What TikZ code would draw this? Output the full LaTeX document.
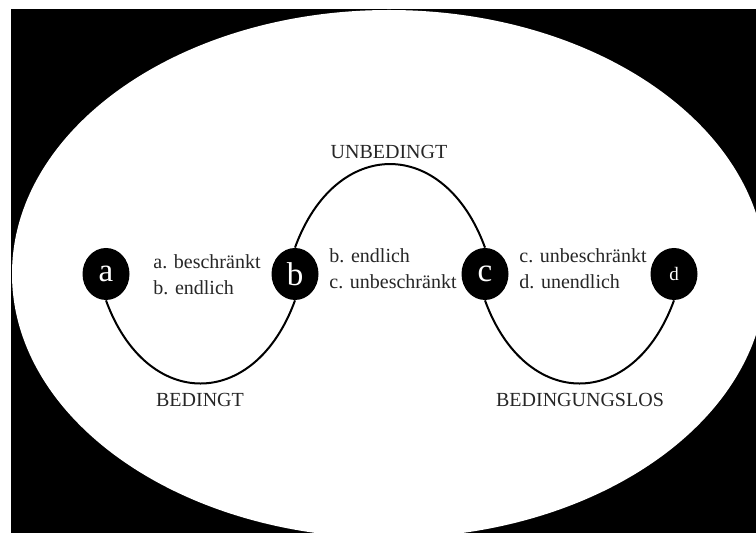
\documentclass[tikz,border=0pt]{standalone}
\usepackage{fontspec}
\setmainfont{Liberation Serif}
\usetikzlibrary{shapes.geometric}

\begin{document}
\begin{tikzpicture}[x=0.5pt,y=-0.5pt,
		point/.style={ellipse,fill=black,inner sep=0pt,minimum width=23.5pt,minimum height=26pt,text=white,font=\fontsize{16.5}{18}\selectfont},
		txt/.style={text=black!85,font=\fontsize{10}{12.8}\selectfont,inner sep=0pt},
		bow/.style={line width=1pt,looseness=1.6}]
		
		\useasboundingbox (0,0) rectangle (756,533);
		\fill[white] (0,0) rectangle (756,533);
		\begin{scope}
			\clip (0,0) rectangle (756,533);
			\fill[black] (11,9) rectangle (756,533);
			\fill[white] (389,274) ellipse [x radius=377,y radius=264];
		\end{scope}
		
		\node(a) at (106,274)[point]{a};
		\node(b) at (295,274)[point]{b};
		\node(c) at (485,274)[point]{c};
		\node(d) at (674,274)[point,font=\fontsize{9.5}{11}\selectfont]{d};
		\draw[bow] (a.south) to[out=-70,in=-110] (b.south);
		\draw[bow] (b.north) to[out=70,in=110] (c.north);
		\draw[bow] (c.south) to[out=-70,in=-110] (d.south);
		
		\node(ab) at (153,275)[txt,anchor=west,align=left]{a. beschränkt\\b. endlich};
		\node(bc) at (329,269)[txt,anchor=west,align=left]{b. endlich\\c. unbeschränkt};
		\node(cd) at (519,269)[txt,anchor=west,align=left]{c. unbeschränkt\\d. unendlich};
		\node(ablabel) at (200,407)[txt,anchor=base]{BEDINGT};
		\node(bclabel) at (389,159)[txt,anchor=base]{UNBEDINGT};
		\node(cdlabel) at (580,407)[txt,anchor=base]{BEDINGUNGSLOS};
		
	\end{tikzpicture}
\end{document}
